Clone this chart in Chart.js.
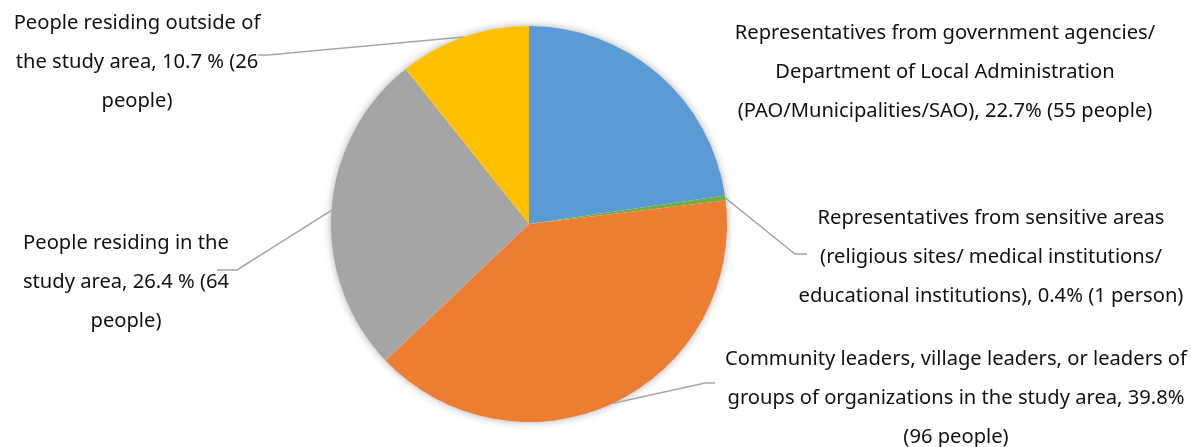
<!DOCTYPE html>
<html>
<head>
<meta charset="utf-8">
<script src="https://cdn.jsdelivr.net/npm/chart.js@4"></script>
<style>
  html, body { margin: 0; padding: 0; background: #fff; }
  #wrap { width: 1191px; height: 447px; position: relative; }
</style>
</head>
<body>
<div id="wrap"><canvas id="c" width="1191" height="447"></canvas></div>
<script>
// ---- data ----
const categories = [
  "Representatives from government agencies/ Department of Local Administration (PAO/Municipalities/SAO)",
  "Representatives from sensitive areas (religious sites/ medical institutions/ educational institutions)",
  "Community leaders, village leaders, or leaders of groups of organizations in the study area",
  "People residing in the study area",
  "People residing outside of the study area"
];
const percents = [22.7, 0.4, 39.8, 26.4, 10.7];
const people = [55, 1, 96, 64, 26];
const labelLines = [
  ["Representatives from government agencies/", "Department of Local Administration", "(PAO/Municipalities/SAO), 22.7% (55 people)"],
  ["Representatives from sensitive areas", "(religious sites/ medical institutions/", "educational institutions), 0.4% (1 person)"],
  ["Community leaders, village leaders, or leaders of", "groups of organizations in the study area, 39.8%", "(96 people)"],
  ["People residing in the", "study area, 26.4 % (64", "people)"],
  ["People residing outside of", "the study area, 10.7 % (26", "people)"]
];
const colors = ["#5B9BD5", "#70AD47", "#ED7D31", "#A5A5A5", "#FFC000"];

// ---- label layout (positions / styles) ----
const labelLayout = [
  { cx: 945, y0: 33, leader: null },
  { cx: 991, y0: 218, leader: { elbow: [795, 254], end: [807, 254] } },
  { cx: 956, y0: 359, leader: { elbow: [705, 383], end: [715, 383] } },
  { cx: 126, y0: 243, leader: { elbow: [237, 270], end: [217, 270] } },
  { cx: 137, y0: 23, leader: { elbow: [268, 55], end: [258, 55] } }
];
const lineGap = 39;
const fontFamily = "'Noto Sans', 'DejaVu Sans', sans-serif";

const shadowPlugin = {
  id: 'pieShadow',
  beforeDatasetsDraw(chart) {
    const arc = chart.getDatasetMeta(0).data[0];
    if (!arc) return;
    const ctx = chart.ctx;
    ctx.save();
    ctx.shadowColor = 'rgba(0,0,0,0.35)';
    ctx.shadowBlur = 8;
    ctx.beginPath();
    ctx.arc(arc.x, arc.y, arc.outerRadius - 0.5, 0, Math.PI * 2);
    ctx.fillStyle = '#ffffff';
    ctx.fill();
    ctx.restore();
  }
};

const labelPlugin = {
  id: 'sideLabels',
  afterDatasetsDraw(chart) {
    const ctx = chart.ctx;
    const meta = chart.getDatasetMeta(0);
    // fit font size to the longest line width in the reference (~462px)
    ctx.save();
    ctx.font = `18px ${fontFamily}`;
    const w = ctx.measureText(labelLines[2][0]).width;
    const size = Math.max(12, Math.min(22, 18 * 462 / w));
    ctx.font = `${size.toFixed(2)}px ${fontFamily}`;
    ctx.fillStyle = '#111';
    ctx.textAlign = 'center';
    ctx.textBaseline = 'middle';
    meta.data.forEach((arc, i) => {
      const lay = labelLayout[i];
      if (lay.leader) {
        const mid = (arc.startAngle + arc.endAngle) / 2;
        const r = arc.outerRadius;
        const sx = arc.x + Math.cos(mid) * r;
        const sy = arc.y + Math.sin(mid) * r;
        ctx.save();
        ctx.strokeStyle = '#A6A6A6';
        ctx.lineWidth = 1.5;
        ctx.beginPath();
        ctx.moveTo(sx, sy);
        ctx.lineTo(lay.leader.elbow[0], lay.leader.elbow[1]);
        ctx.lineTo(lay.leader.end[0], lay.leader.end[1]);
        ctx.stroke();
        ctx.restore();
      }
      labelLines[i].forEach((line, k) => {
        ctx.fillText(line, lay.cx, lay.y0 + k * lineGap);
      });
    });
    ctx.restore();
  }
};

new Chart(document.getElementById('c'), {
  type: 'pie',
  data: {
    labels: categories,
    datasets: [{
      data: percents,
      backgroundColor: colors,
      borderWidth: 0,
      hoverOffset: 0
    }]
  },
  options: {
    responsive: false,
    animation: false,
    layout: { padding: { top: 26, bottom: 25, left: 0, right: 133 } },
    plugins: {
      legend: { display: false },
      tooltip: { enabled: false }
    }
  },
  plugins: [shadowPlugin, labelPlugin]
});
</script>
</body>
</html>
